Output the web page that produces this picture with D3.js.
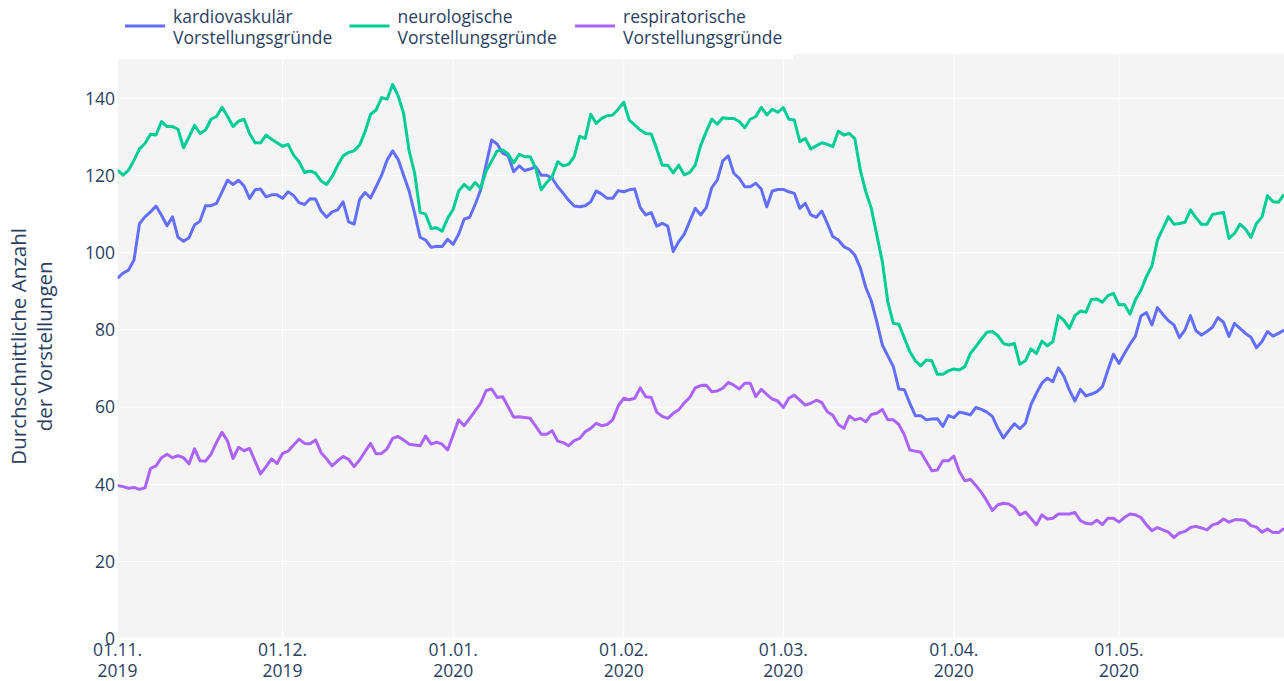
<!DOCTYPE html>
<html><head><meta charset="utf-8">
<script src="https://cdn.jsdelivr.net/npm/d3@7"></script>
<style>
body{margin:0;background:#fff}
text{font-family:"Open Sans",sans-serif;fill:#2a3f5f}
</style>
</head><body>
<svg id="c" width="1284" height="681"></svg>
<script>
// ---------- data ----------
const startDate = [2019, 10, 1];   // 01.11.2019, one value per day
const endDate = [2020, 4, 31];
const seriesNames = ["kardiovaskulär Vorstellungsgründe", "neurologische Vorstellungsgründe", "respiratorische Vorstellungsgründe"];
const seriesColors = ["#636efa", "#00cc96", "#ab63fa"];
const cardio = [
93.4,94.7,95.5,98.1,107.6,109.3,110.6,112.1,109.7,107,
109.3,104,103,103.9,107.2,108.2,112.2,112.2,112.8,115.8,
118.8,117.7,118.8,117.3,114.1,116.3,116.5,114.5,115,115,
114.1,115.8,114.8,113,112.5,114,113.9,110.8,109.2,110.6,
111.1,113.2,108,107.4,113.8,115.6,114.2,117.1,120.1,124,
126.4,124.2,120.1,116,110.2,104,103.3,101.4,101.7,101.6,
103.5,102.2,104.8,108.7,109.2,112.5,116.3,122.9,129.2,128.2,
125.8,125.1,121,122.5,121.3,121.7,122.3,120.1,120.1,119.3,
117.1,115.4,113.6,112.1,111.9,112.2,113.2,116,115.2,114.1,
114.1,116.1,115.8,116.3,116.5,111.7,109.8,110.4,106.9,107.6,
106.9,100.3,102.9,104.8,108.2,111.5,109.8,111.7,116.9,118.8,
123.8,125.1,120.6,119.3,117.1,117.1,118,116.5,111.9,116,
116.4,116.4,115.8,115.4,111.5,112.8,109.8,109.2,110.8,107.6,
104.2,103.3,101.6,100.9,99.4,96.1,91,87.5,82.1,76.1,
73.3,70.5,64.7,64.5,61,57.8,57.8,56.7,56.9,57,
55,57.8,57.3,58.7,58.4,58,59.9,59.4,58.7,57.6,
54.5,52,53.9,55.7,54.4,55.8,60.6,63.6,66.2,67.5,
66.6,70.2,68,64.4,61.6,64.6,62.9,63.4,64,65.3,
69.6,73.7,71.3,73.9,76.3,78.4,83.6,84.5,81.3,85.8,
84,82.4,81.3,78,80,83.7,79.8,78.7,79.6,80.7,
83.2,82,78.3,81.7,80.4,79.1,78.1,75.4,77,79.6,
78.4,79.1,80];
const neuro = [
121.4,120.1,121.4,124,126.9,128.3,130.7,130.5,134,132.7,
132.7,132,127.2,130,133,130.9,131.8,134.6,135.3,137.7,
135.3,132.7,134.1,134.6,130.9,128.5,128.5,130.5,129.4,128.5,
127.6,128.1,125.3,123.6,120.8,121.2,120.6,118.6,117.7,119.7,
122.6,125.1,126,126.4,127.9,131.4,135.9,137,140.2,139.8,
143.6,140.7,136.1,126.4,120.6,110.5,110,106.3,106.5,105.6,
108.9,111.2,116,117.7,116.4,118.2,116.7,121.2,123.8,126.4,
126.6,125.6,123.3,125.5,124.9,124.9,121.9,116.3,118.2,119.7,
123.6,122.5,122.9,124.9,130.2,129.6,135.9,133.5,134.8,135.5,
135.7,137.2,139,134.4,133.1,131.8,130.9,130.8,126.9,122.7,
122.7,120.7,122.7,120.2,120.8,122.7,127.9,131.4,134.6,133.3,
135,134.8,134.8,134,132.4,134.6,135.3,137.7,135.7,137.2,
136.4,137.6,134.6,134.4,128.8,129.6,126.9,127.7,128.5,128.1,
127.5,131.5,130.5,130.9,129.6,121.4,115.8,111.5,104.6,97.7,
87.3,81.7,81.5,77.9,74.4,72,70.7,72.2,72,68.5,
68.5,69.4,69.9,69.6,70.5,73.9,75.7,77.6,79.4,79.6,
78.5,76.5,76.1,76.5,71.1,72,75.1,73.9,77.1,75.9,
77,83.7,82.5,80.4,83.7,84.9,84.6,87.9,88,87.2,
88.9,89.5,86.5,86.6,84.1,87.8,90.3,93.8,96.6,103.3,
106.3,109.3,107.4,107.6,107.9,111.1,109.1,107.4,107.4,109.9,
110.2,110.5,103.7,105,107.4,106.1,104,107.6,109.3,114.8,
113.2,113.1,115.1];
const resp = [
39.7,39.4,39,39.2,38.7,39.1,44.1,44.8,46.9,47.8,
46.9,47.4,46.9,45.3,49.2,46.1,46,47.8,50.9,53.5,
51.2,46.7,49.6,48.7,49.3,46,42.7,44.6,46.6,45.4,
48,48.6,50.2,51.7,50.6,50.5,51.5,48.2,46.6,44.8,
46.1,47.2,46.5,44.6,46.3,48.5,50.6,47.9,48,49.2,
51.9,52.4,51.5,50.4,50.2,50,52.5,50.4,50.9,50.4,
48.9,52.8,56.7,55.2,57.1,59,61,64.3,64.7,62.5,
62.7,60.1,57.4,57.5,57.3,57.1,55.1,53,53,53.9,
51.2,50.8,50,51.3,51.9,53.6,54.5,55.8,55.2,55.5,
56.7,60.3,62.3,61.9,62.3,65,62.7,62.5,58.7,57.6,
57.1,58.4,59.3,61.1,62.5,65,65.6,65.7,64,64.2,
64.9,66.4,65.7,64.7,66.2,66.2,62.7,64.6,63.3,62.1,
61.6,59.9,62.3,63.1,61.8,60.5,61,61.8,61.2,58.8,
57.9,55.5,54.5,57.7,56.7,57.1,56.2,58.1,58.4,59.4,
56.7,56.7,55.5,52.8,48.9,48.6,48.3,45.9,43.5,43.7,
46.1,46.1,47.3,43.3,40.9,41.3,39.7,37.9,35.7,33.2,
34.7,35.1,34.9,34,32.1,32.8,31.2,29.5,32.1,31,
31.2,32.3,32.3,32.3,32.7,30.6,29.9,29.7,30.7,29.6,
31.2,31.2,30.2,31.4,32.3,32.1,31.4,29.5,28,28.8,
28.2,27.6,26.2,27.4,27.8,28.8,29.1,28.7,28.2,29.5,
29.9,31,30.2,30.8,30.8,30.6,29.3,28.9,27.6,28.4,
27.5,27.5,28.6];
const yTicks = [0, 20, 40, 60, 80, 100, 120, 140];
const yMax = 151.5;
const yTitle = ["Durchschnittliche Anzahl", "der Vorstellungen"];

// ---------- layout ----------
const m = {left: 117.5, right: 1284, top: 54, bottom: 638.7};
const svg = d3.select("#c");
const t0 = new Date(Date.UTC(...startDate));
const t1 = new Date(Date.UTC(...endDate));
const x = d3.scaleUtc().domain([t0, t1]).range([m.left, m.right]);
const y = d3.scaleLinear().domain([0, yMax]).range([m.bottom, m.top]);

svg.append("rect").attr("x", m.left).attr("y", m.top)
  .attr("width", m.right - m.left).attr("height", m.bottom - m.top).attr("fill", "#f4f4f4");

const xTicks = d3.utcMonth.range(t0, d3.utcDay.offset(t1, 1));
const grid = svg.append("g");
grid.selectAll("line.v").data(xTicks).join("line")
  .attr("x1", d => x(d)).attr("x2", d => x(d)).attr("y1", m.top).attr("y2", m.bottom)
  .attr("stroke", "#fff").attr("stroke-width", 1);
grid.selectAll("line.h").data(yTicks).join("line")
  .attr("x1", m.left).attr("x2", m.right).attr("y1", d => y(d)).attr("y2", d => y(d))
  .attr("stroke", "#fff").attr("stroke-width", d => d === 0 ? 2 : 1);

// y tick labels
const fs = 17.5;
svg.append("g").selectAll("text").data(yTicks).join("text")
  .attr("x", 115).attr("y", d => y(d)).attr("dy", "0.36em")
  .attr("text-anchor", "end").attr("font-size", fs).text(d => d);

// x tick labels
const fDay = d3.utcFormat("%d.%m."), fYear = d3.utcFormat("%Y");
const xl = svg.append("g").selectAll("text").data(xTicks).join("text")
  .attr("text-anchor", "middle").attr("font-size", fs);
xl.append("tspan").attr("x", d => x(d)).attr("y", 656).text(d => fDay(d));
xl.append("tspan").attr("x", d => x(d)).attr("y", 677).text(d => fYear(d));

// y title
const yt = svg.append("text").attr("transform", `translate(0,${(m.top + m.bottom) / 2}) rotate(-90)`)
  .attr("text-anchor", "middle").attr("font-size", 20.5);
yTitle.forEach((s, i) => yt.append("tspan").attr("x", 0).attr("y", 26 + i * 25.5).text(s));

// lines
const allSeries = [cardio, neuro, resp];
const line = d3.line().x((d, i) => x(d3.utcDay.offset(t0, i))).y(d => y(d));
svg.append("clipPath").attr("id", "pc").append("rect")
  .attr("x", m.left).attr("y", m.top).attr("width", m.right - m.left).attr("height", m.bottom - m.top);
svg.append("g").attr("clip-path", "url(#pc)").selectAll("path").data(allSeries).join("path")
  .attr("d", d => line(d)).attr("fill", "none")
  .attr("stroke", (d, i) => seriesColors[i]).attr("stroke-width", 3)
  .attr("stroke-linejoin", "round");

// legend
svg.append("rect").attr("x", m.left).attr("y", 0).attr("width", 793 - m.left).attr("height", 59).attr("fill", "#fff");
const legX = [125, 349.5, 575];
const lg = svg.append("g").selectAll("g").data(seriesNames).join("g")
  .attr("transform", (d, i) => `translate(${legX[i]},0)`);
lg.append("line").attr("x1", 0).attr("x2", 40).attr("y1", 26).attr("y2", 26)
  .attr("stroke", (d, i) => seriesColors[i]).attr("stroke-width", 3);
lg.each(function(d) {
  const parts = d.split(" ");
  const t = d3.select(this).append("text").attr("font-size", fs);
  parts.forEach((p, j) => t.append("tspan").attr("x", 48).attr("y", 23 + j * 21).text(p));
});
</script>
</body></html>
